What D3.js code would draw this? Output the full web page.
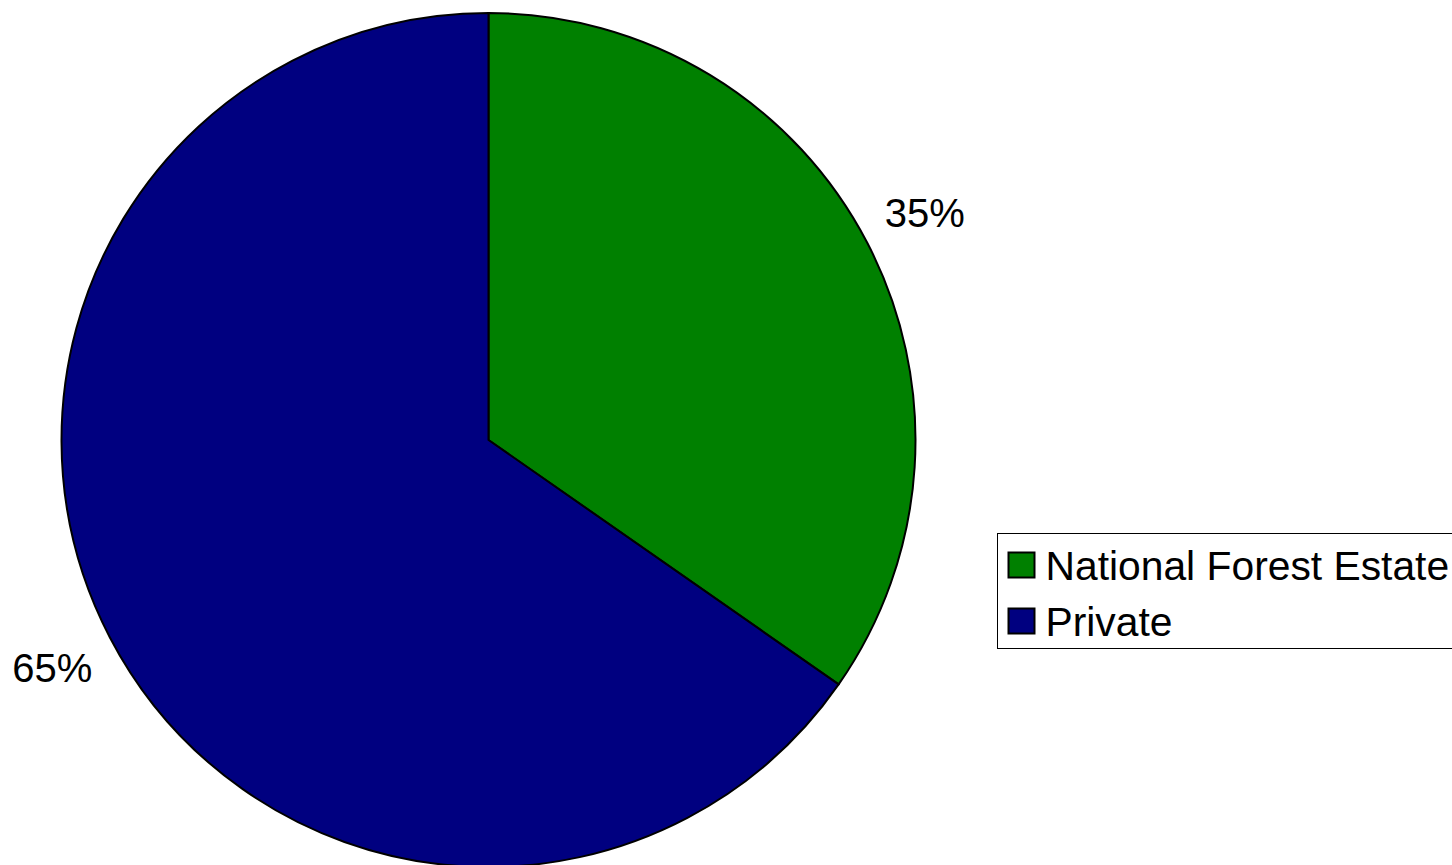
<!DOCTYPE html>
<html>
<head>
<meta charset="utf-8">
<script src="https://cdn.jsdelivr.net/npm/d3@7"></script>
<style>
  html, body { margin: 0; padding: 0; background: #fff; }
  svg { display: block; font-family: "Liberation Sans", Arial, sans-serif; }
</style>
</head>
<body>
<div id="chart"></div>
<script>
const categories = ["National Forest Estate", "Private"];
const shares = [34.7, 65.3];
const sliceColors = ["#008000", "#000080"];

const width = 1452, height = 865;
const cx = 488.5, cy = 440, radius = 427;
const labelRadius = 492;
const fontsize = 40;
const legendfontsize = 40.8;

const data = categories.map((c, i) => ({ name: c, value: shares[i], color: sliceColors[i] }));

const svg = d3.select("#chart")
    .append("svg")
    .attr("width", width)
    .attr("height", height);

const pie = d3.pie()
    .sort(null)
    .value(d => d.value);

const arc = d3.arc()
    .innerRadius(0)
    .outerRadius(radius);

const total = d3.sum(shares);

const g = svg.append("g")
    .attr("transform", `translate(${cx},${cy})`);

g.selectAll("path")
    .data(pie(data))
    .enter()
    .append("path")
    .attr("d", arc)
    .attr("fill", d => d.data.color)
    .attr("stroke", "#000")
    .attr("stroke-width", 2)
    .attr("stroke-linejoin", "round");

// percent labels outside the pie
g.selectAll("text.pct")
    .data(pie(data))
    .enter()
    .append("text")
    .attr("class", "pct")
    .attr("x", d => labelRadius * Math.sin((d.startAngle + d.endAngle) / 2))
    .attr("y", d => -labelRadius * Math.cos((d.startAngle + d.endAngle) / 2))
    .attr("dy", "0.36em")
    .attr("text-anchor", "middle")
    .attr("font-size", fontsize)
    .attr("fill", "#000")
    .text(d => Math.round(d.data.value / total * 100) + "%");

// legend
const legend = svg.append("g")
    .attr("transform", "translate(997.5,533.5)");

legend.append("rect")
    .attr("width", 470)
    .attr("height", 115)
    .attr("fill", "#fff")
    .attr("stroke", "#000")
    .attr("stroke-width", 1);

const items = legend.selectAll("g.item")
    .data(data)
    .enter()
    .append("g")
    .attr("class", "item")
    .attr("transform", (d, i) => `translate(11,${19 + i * 56})`);

items.append("rect")
    .attr("width", 26)
    .attr("height", 25)
    .attr("fill", d => d.color)
    .attr("stroke", "#000")
    .attr("stroke-width", 2);

items.append("text")
    .attr("x", 37)
    .attr("y", 12.5)
    .attr("dy", "0.36em")
    .attr("font-size", legendfontsize)
    .attr("fill", "#000")
    .text(d => d.name);
</script>
</body>
</html>
